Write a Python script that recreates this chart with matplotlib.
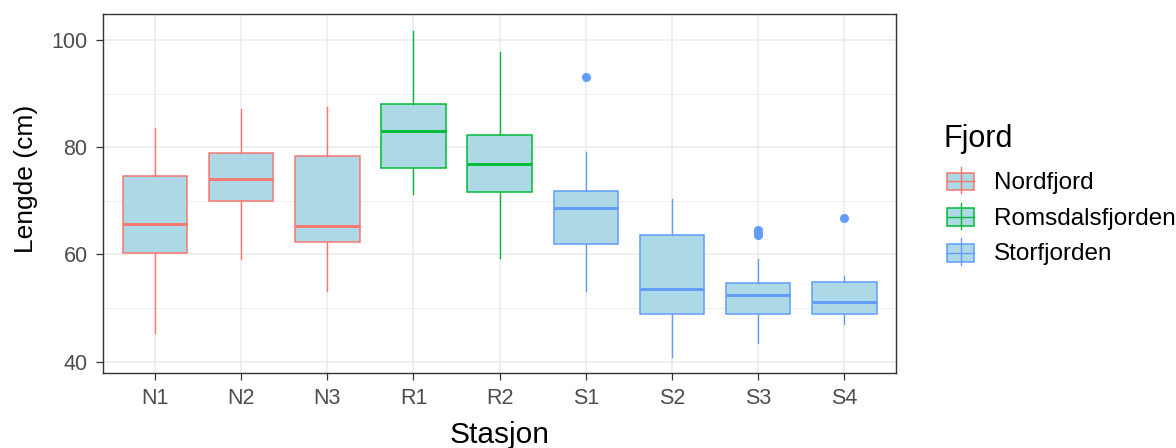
import matplotlib
matplotlib.use("Agg")
import matplotlib.pyplot as plt
from matplotlib.patches import Rectangle

plt.rcParams['font.family'] = ['Liberation Sans', 'DejaVu Sans']

# box statistics per station (cm)
stations = ["N1", "N2", "N3", "R1", "R2", "S1", "S2", "S3", "S4"]
station_fjord = ["Nordfjord", "Nordfjord", "Nordfjord",
                 "Romsdalsfjorden", "Romsdalsfjorden",
                 "Storfjorden", "Storfjorden", "Storfjorden", "Storfjorden"]
whisker_low = [45.4, 59.2, 53.1, 71.2, 59.3, 53.1, 40.9, 43.5, 47.0]
q1 = [60.3, 70.0, 62.3, 76.1, 71.6, 61.9, 48.8, 48.8, 48.8]
median = [65.7, 74.0, 65.3, 83.0, 76.9, 68.6, 53.5, 52.5, 51.2]
q3 = [74.6, 79.0, 78.4, 88.0, 82.2, 71.9, 63.6, 54.6, 54.8]
whisker_high = [83.6, 87.2, 87.5, 101.7, 97.8, 79.1, 70.4, 59.2, 55.9]
outliers = [[], [], [], [], [], [93.1], [], [64.6, 64.0, 63.6], [66.8]]

fjord_names = ["Nordfjord", "Romsdalsfjorden", "Storfjorden"]
fjord_colors = ["#F8766D", "#00BA38", "#619CFF"]
fill_color = "#ADD8E6"

color_of = dict(zip(fjord_names, fjord_colors))

W, H = 1176, 448
fig = plt.figure(figsize=(W / 100, H / 100), dpi=100)
ax = fig.add_axes([103.3 / W, 1 - 372.7 / H, (896 - 103.3) / W, (372.7 - 14) / H])

for i in range(len(stations)):
    c = color_of[station_fjord[i]]
    stats = [{
        "whislo": whisker_low[i], "q1": q1[i], "med": median[i],
        "q3": q3[i], "whishi": whisker_high[i], "fliers": outliers[i],
    }]
    ax.bxp(stats, positions=[i + 1], widths=0.75, patch_artist=True,
           showcaps=False, manage_ticks=False,
           boxprops=dict(facecolor=fill_color, edgecolor=c, linewidth=1.1),
           medianprops=dict(color=c, linewidth=2.1),
           whiskerprops=dict(color=c, linewidth=1.0),
           flierprops=dict(marker="o", markerfacecolor=c, markeredgecolor=c,
                           markersize=5.5, linestyle="none"))

ax.set_xlim(0.4, 9.6)
ax.set_ylim(37.94, 104.86)
ax.set_xticks(range(1, len(stations) + 1), stations)
ax.set_yticks([40, 60, 80, 100])
ax.set_yticks([50, 70, 90], minor=True)
ax.grid(which="major", color="#EBEBEB", linewidth=1.1)
ax.grid(which="minor", axis="y", color="#EBEBEB", linewidth=0.55)
ax.set_axisbelow(True)
ax.tick_params(which="major", length=4.8, width=0.9, color="#333333",
               labelsize=15.5, labelcolor="#4D4D4D")
ax.tick_params(axis="x", which="major", pad=6)
ax.tick_params(axis="y", which="major", pad=6.5)
ax.tick_params(which="minor", length=0)
for sp in ax.spines.values():
    sp.set_color("#333333")
    sp.set_linewidth(1.0)

# axis titles placed in pixel terms (baseline anchored)
fig.text(499.6 / W, 1 - 443.3 / H, "Stasjon", fontsize=21.5,
         ha="center", va="baseline")
fig.text(33.3 / W, 1 - 179 / H, "Lengde (cm)", fontsize=19, rotation=90,
         rotation_mode="anchor", ha="center", va="baseline")

# legend drawn in figure pixel coordinates
leg = fig.add_axes([0, 0, 1, 1])
leg.set_xlim(0, W)
leg.set_ylim(H, 0)
leg.axis("off")
leg.text(943, 146.7, "Fjord", fontsize=22, va="baseline", ha="left")
for k, (name, c) in enumerate(zip(fjord_names, fjord_colors)):
    yc = 181.5 + k * 35.7
    leg.plot([960.5, 960.5], [yc - 14.5, yc + 12], color=c, lw=1.0)
    leg.add_patch(Rectangle((947, yc - 8.7), 27, 17.4, facecolor=fill_color,
                            edgecolor=c, lw=1.1))
    leg.plot([947, 974], [yc, yc], color=c, lw=1.0)
    leg.text(994, yc + 1.5, name, fontsize=17.5, va="center", ha="left")

fig.savefig("out.png", dpi=100)
